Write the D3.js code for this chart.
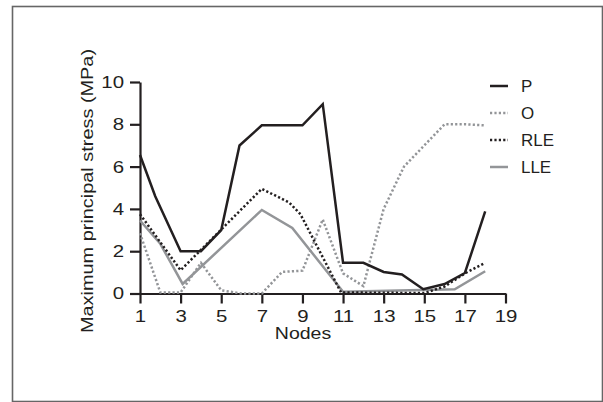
<!DOCTYPE html>
<html>
<head>
<meta charset="utf-8">
<script src="https://cdn.jsdelivr.net/npm/d3@7"></script>
<style>
  body { margin: 0; background: #fff; }
  svg { display: block; font-family: "Liberation Sans", Arial, sans-serif; }
</style>
</head>
<body>
<div id="chart"></div>
<script>
// data
var nodeTicks = [1, 3, 5, 7, 9, 11, 13, 15, 17, 19];
var stressTicks = [0, 2, 4, 6, 8, 10];
var seriesNames = ["P", "O", "RLE", "LLE"];

var pNodes = [1, 1.75, 3, 4, 5, 5.9, 7, 9, 10, 11, 12, 13, 13.9, 14.95, 16, 17, 18];
var pValues = [6.55, 4.6, 2.0, 2.0, 3.0, 7.0, 7.95, 7.95, 8.95, 1.45, 1.45, 1.02, 0.9, 0.2, 0.45, 0.97, 3.88];

var oNodes = [1, 2, 3, 4, 5, 6, 7, 8, 9, 10, 11, 12, 13, 14, 15, 16, 17, 18];
var oValues = [2.85, 0.05, 0.05, 1.45, 0.15, 0, 0, 1.02, 1.08, 3.5, 0.95, 0.35, 4.0, 6.0, 7.0, 8.0, 8.0, 7.95];

var rleNodes = [1, 3, 7, 8.35, 8.9, 10.9, 15, 16, 17, 18];
var rleValues = [3.75, 1.1, 4.95, 4.3, 3.75, 0.05, 0.02, 0.33, 0.95, 1.45];

var lleNodes = [1, 2, 3.1, 7, 8.5, 11, 16.5, 18];
var lleValues = [3.45, 2.35, 0.45, 3.95, 3.1, 0.08, 0.2, 1.05];

var width = 603, height = 402;
var dark = "#231f20", grey = "#939598";

var svg = d3.select("#chart").append("svg")
  .attr("width", width)
  .attr("height", height);

// outer frame
svg.append("rect")
  .attr("x", 12.5).attr("y", 6.5)
  .attr("width", 590).attr("height", 395)
  .attr("fill", "none")
  .attr("stroke", "#666")
  .attr("stroke-width", 1.6);

var x = d3.scaleLinear().domain([1, 19]).range([140, 505.5]);
var y = d3.scaleLinear().domain([0, 10]).range([293.5, 82]);

// widen glyphs a bit, the original font is broad
function stretch(sel, k) {
  sel.each(function() {
    var w = this.getComputedTextLength();
    this.setAttribute("textLength", w * k);
    this.setAttribute("lengthAdjust", "spacingAndGlyphs");
  });
}

function styleAxis(g) {
  g.select(".domain").attr("stroke", dark).attr("stroke-width", 2.2);
  g.selectAll(".tick line").attr("stroke", dark).attr("stroke-width", 2.2);
  g.selectAll(".tick text")
    .attr("fill", dark)
    .style("font-size", "17px")
    .style("font-family", "Liberation Sans, Arial, sans-serif");
}

var xAxis = svg.append("g")
  .attr("transform", "translate(0," + y(0) + ")")
  .call(d3.axisBottom(x).tickValues(nodeTicks).tickSize(10).tickSizeOuter(0).tickPadding(6));
styleAxis(xAxis);
stretch(xAxis.selectAll(".tick text"), 1.2);

var yAxis = svg.append("g")
  .attr("transform", "translate(" + x(1) + ",0)")
  .call(d3.axisLeft(y).tickValues(stressTicks).tickSize(10).tickSizeOuter(0).tickPadding(6));
styleAxis(yAxis);
stretch(yAxis.selectAll(".tick text"), 1.2);

// axis titles
var xTitle = svg.append("text")
  .attr("x", 303).attr("y", 339)
  .attr("text-anchor", "middle")
  .attr("fill", dark)
  .style("font-size", "16px")
  .text("Nodes");
stretch(xTitle, 1.22);

var yTitle = svg.append("text")
  .attr("transform", "translate(93,191) rotate(-90)")
  .attr("text-anchor", "middle")
  .attr("fill", dark)
  .style("font-size", "17px")
  .text("Maximum principal stress (MPa)");
stretch(yTitle, 1.17);

// lines
var series = [
  { name: "P", nodes: pNodes, values: pValues, color: dark, dash: null },
  { name: "O", nodes: oNodes, values: oValues, color: grey, dash: "2.2,2.2" },
  { name: "RLE", nodes: rleNodes, values: rleValues, color: dark, dash: "2.2,2.2" },
  { name: "LLE", nodes: lleNodes, values: lleValues, color: grey, dash: null }
];

var line = d3.line()
  .x(function(d) { return x(d[0]); })
  .y(function(d) { return y(d[1]); });

// draw order: greys underneath
var drawOrder = [1, 3, 2, 0];
svg.append("g").attr("class", "lines")
  .selectAll("path")
  .data(drawOrder.map(function(i) { return series[i]; }))
  .enter().append("path")
  .attr("d", function(s) { return line(d3.zip(s.nodes, s.values)); })
  .attr("fill", "none")
  .attr("stroke", function(s) { return s.color; })
  .attr("stroke-width", 2.5)
  .attr("stroke-linejoin", "miter")
  .attr("stroke-dasharray", function(s) { return s.dash; });

// legend
var legend = svg.append("g").attr("class", "legend")
  .selectAll("g")
  .data(series)
  .enter().append("g")
  .attr("transform", function(s, i) { return "translate(490," + (86 + i * 27) + ")"; });

legend.append("line")
  .attr("x1", 0).attr("x2", 18)
  .attr("stroke", function(s) { return s.color; })
  .attr("stroke-width", 2.5)
  .attr("stroke-dasharray", function(s) { return s.dash; });

var legendText = legend.append("text")
  .attr("x", 31).attr("dy", "0.36em")
  .attr("fill", dark)
  .style("font-size", "16px")
  .text(function(s) { return s.name; });
stretch(legendText, 1.06);
</script>
</body>
</html>
